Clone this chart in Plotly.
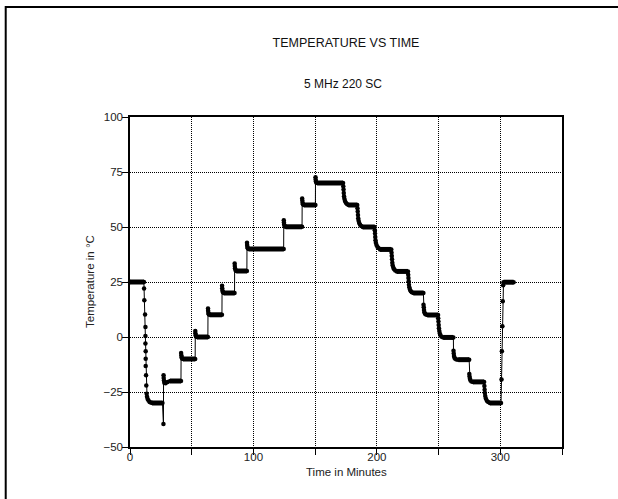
import plotly.graph_objects as go

# Oven temperature profile for the 5 MHz 220 SC part.
# Transition readings (minutes, deg C) between the soak levels.
trans_time = [
    11.4, 11.6, 12.2, 12.5, 12.5, 12.5, 12.7, 12.7, 12.7, 13.0, 13.2, 13.5,
    13.8, 14.3, 15.0, 15.9, 17.0,
    27.1, 27.2, 27.3, 27.5, 27.8, 28.8, 30.5,
    41.4, 41.6, 41.8, 42.2,
    52.9, 53.0, 53.2, 53.6,
    63.2, 63.3, 63.5, 63.8,
    74.6, 74.7, 74.9, 75.2,
    84.8, 84.9, 85.1, 85.4,
    94.8, 94.9, 95.1, 95.4,
    124.6, 124.7, 124.9, 125.2,
    139.5, 139.6, 139.8, 140.1,
    150.3, 150.4, 150.6, 150.9,
    172.8, 173.0, 173.2, 173.4, 173.7, 174.2, 174.9, 175.8,
    184.3, 184.5, 184.7, 184.9, 185.2, 185.7, 186.4, 187.3,
    198.3, 198.5, 198.7, 198.9, 199.2, 199.7, 200.4, 201.3,
    211.9, 212.1, 212.3, 212.5, 212.8, 213.3, 214.0, 214.9,
    225.4, 225.6, 225.8, 226.0, 226.3, 226.8, 227.5, 228.4,
    237.8, 238.0, 238.2, 238.5, 239.0, 239.8,
    249.7, 249.9, 250.1, 250.3, 250.6, 251.0, 251.6, 252.5,
    262.1, 262.3, 262.5, 262.9, 263.5, 264.5,
    274.9, 275.1, 275.4, 275.9, 276.7,
    287.1, 287.3, 287.5, 287.8, 288.3, 289.1, 290.2,
    301.0, 301.3, 301.7, 302.0, 302.3,
]
trans_temp = [
    22.0, 16.7, 10.2, 4.6, 0.5, -3.0, -6.5, -9.9, -13.2, -17.4, -22.0, -25.8,
    -27.2, -28.2, -28.9, -29.5, -29.8,
    -39.5, -17.4, -18.6, -19.8, -20.8, -21.0, -20.5,
    -7.3, -8.3, -9.2, -9.8,
    2.7, 1.7, 0.8, 0.2,
    12.9, 11.9, 10.9, 10.3,
    23.3, 22.2, 21.1, 20.4,
    33.4, 32.3, 31.2, 30.4,
    42.8, 41.8, 40.9, 40.3,
    53.1, 52.1, 51.1, 50.4,
    63.0, 62.0, 61.0, 60.3,
    72.6, 71.6, 70.7, 70.2,
    68.5, 67.0, 65.5, 64.0, 62.8, 61.8, 61.0, 60.5,
    58.5, 57.0, 55.5, 54.0, 52.8, 51.8, 51.0, 50.5,
    48.5, 47.0, 45.5, 44.0, 42.8, 41.8, 41.0, 40.4,
    38.3, 36.8, 35.3, 33.8, 32.6, 31.6, 30.8, 30.2,
    28.3, 26.8, 25.3, 23.8, 22.6, 21.6, 20.8, 20.3,
    14.7, 13.5, 12.3, 11.3, 10.6, 10.2,
    8.5, 7.0, 5.5, 4.0, 2.7, 1.6, 0.7, 0.1,
    -6.3, -7.5, -8.6, -9.4, -9.9, -10.2,
    -16.8, -18.0, -19.0, -19.8, -20.2,
    -22.3, -24.0, -25.5, -26.8, -28.0, -29.0, -29.6,
    -19.3, -6.5, 4.9, 16.3, 23.5,
]

# Soak levels: start and end of each hold (minutes) and its temperature.
hold_start = [0.0, 18.0, 32.5, 43.0, 54.3, 64.5, 76.0, 86.2, 96.2, 126.0,
              140.9, 151.7, 177.0, 188.6, 202.6, 216.2, 229.7, 241.0,
              253.8, 266.0, 278.0, 291.6, 302.6]
hold_end = [11.3, 26.3, 41.3, 52.8, 63.1, 74.5, 84.7, 94.7, 124.5, 139.4,
            150.2, 172.6, 184.1, 198.1, 211.7, 225.2, 237.7, 249.6,
            262.0, 274.8, 286.9, 300.6, 310.8]
hold_temp = [25.0, -30.0, -20.0, -10.0, 0.0, 10.1, 20.0, 30.0, 40.0, 50.1,
             60.0, 70.0, 60.0, 50.0, 39.8, 29.8, 20.0, 10.0,
             -0.2, -10.3, -20.4, -30.0, 24.9]

x_ticks = [0, 50, 100, 150, 200, 250, 300, 350]
x_tick_text = ["0", "", "100", "", "200", "", "300", ""]
y_ticks = [-50, -25, 0, 25, 50, 75, 100]

# Full recorded path: hold end points merged with the transition readings.
points = list(zip(trans_time, trans_temp))
points += list(zip(hold_start, hold_temp)) + list(zip(hold_end, hold_temp))
points.sort(key=lambda p: p[0])
path_t = [p[0] for p in points]
path_T = [p[1] for p in points]

# Holds drawn as heavy bars (densely sampled readings).
bar_x, bar_y = [], []
for s, e, v in zip(hold_start, hold_end, hold_temp):
    bar_x += [s, e, None]
    bar_y += [v, v, None]

FONT = "Arial, 'Liberation Sans', sans-serif"

fig = go.Figure()
fig.add_trace(go.Scatter(
    x=bar_x, y=bar_y, mode="lines",
    line=dict(color="black", width=5),
    hoverinfo="skip", showlegend=False,
))
fig.add_trace(go.Scatter(
    x=path_t, y=path_T, mode="lines+markers",
    line=dict(color="black", width=1),
    marker=dict(color="black", size=4.5, line=dict(width=0)),
    cliponaxis=False, showlegend=False,
))

fig.update_layout(
    width=618, height=499,
    margin=dict(l=130, r=56, t=117, b=52),
    paper_bgcolor="white", plot_bgcolor="white",
    font=dict(family=FONT, size=11.5, color="#222"),
    title=dict(text="TEMPERATURE VS TIME", x=0.5, xref="paper",
               y=1 - 42.7 / 499, yref="container", yanchor="middle",
               xanchor="center", font=dict(size=12.5, color="#111")),
    showlegend=False,
)

fig.update_xaxes(
    range=[0, 350], tickvals=x_ticks, ticktext=x_tick_text,
    showgrid=True, gridcolor="black", griddash="1px,1px", gridwidth=1,
    showline=True, linecolor="black", linewidth=1.5, mirror=True,
    ticks="outside", ticklen=6, tickcolor="black", tickwidth=1,
    ticklabelstandoff=-8,
    zeroline=False, fixedrange=True,
)
fig.update_yaxes(
    range=[-50, 100], tickvals=y_ticks,
    showgrid=True, gridcolor="black", griddash="1px,1px", gridwidth=1,
    showline=True, linecolor="black", linewidth=1.5, mirror=True,
    ticks="outside", ticklen=6, tickcolor="black", tickwidth=1,
    ticklabelstandoff=-3,
    zeroline=False, fixedrange=True,
)

# Subtitle and axis titles
fig.add_annotation(text="5 MHz 220 SC", xref="paper", yref="paper",
                   x=(343 - 130) / 432, y=(446.7 - 84.3) / 329.4,
                   xanchor="center", yanchor="middle", showarrow=False,
                   font=dict(size=12, color="#111"))
fig.add_annotation(text="Time in Minutes", xref="paper", yref="paper",
                   x=0.5, y=(446.7 - 472) / 329.4,
                   xanchor="center", yanchor="middle", showarrow=False,
                   font=dict(size=11.5, color="#222"))
fig.add_annotation(text="Temperature in °C", xref="paper", yref="paper",
                   x=(90 - 130) / 432, y=0.5, textangle=-90,
                   xanchor="center", yanchor="middle", showarrow=False,
                   font=dict(size=11.5, color="#222"))

# Page border (top and left edges)
fig.add_shape(type="path", xref="paper", yref="paper",
              path="M %.4f %.4f L %.4f %.4f L %.4f %.4f" % (
                  (5.7 - 130) / 432, (446.7 - 505) / 329.4,
                  (5.7 - 130) / 432, (446.7 - 7.4) / 329.4,
                  (625 - 130) / 432, (446.7 - 7.4) / 329.4),
              line=dict(color="black", width=2))

fig.write_html("out.html")
